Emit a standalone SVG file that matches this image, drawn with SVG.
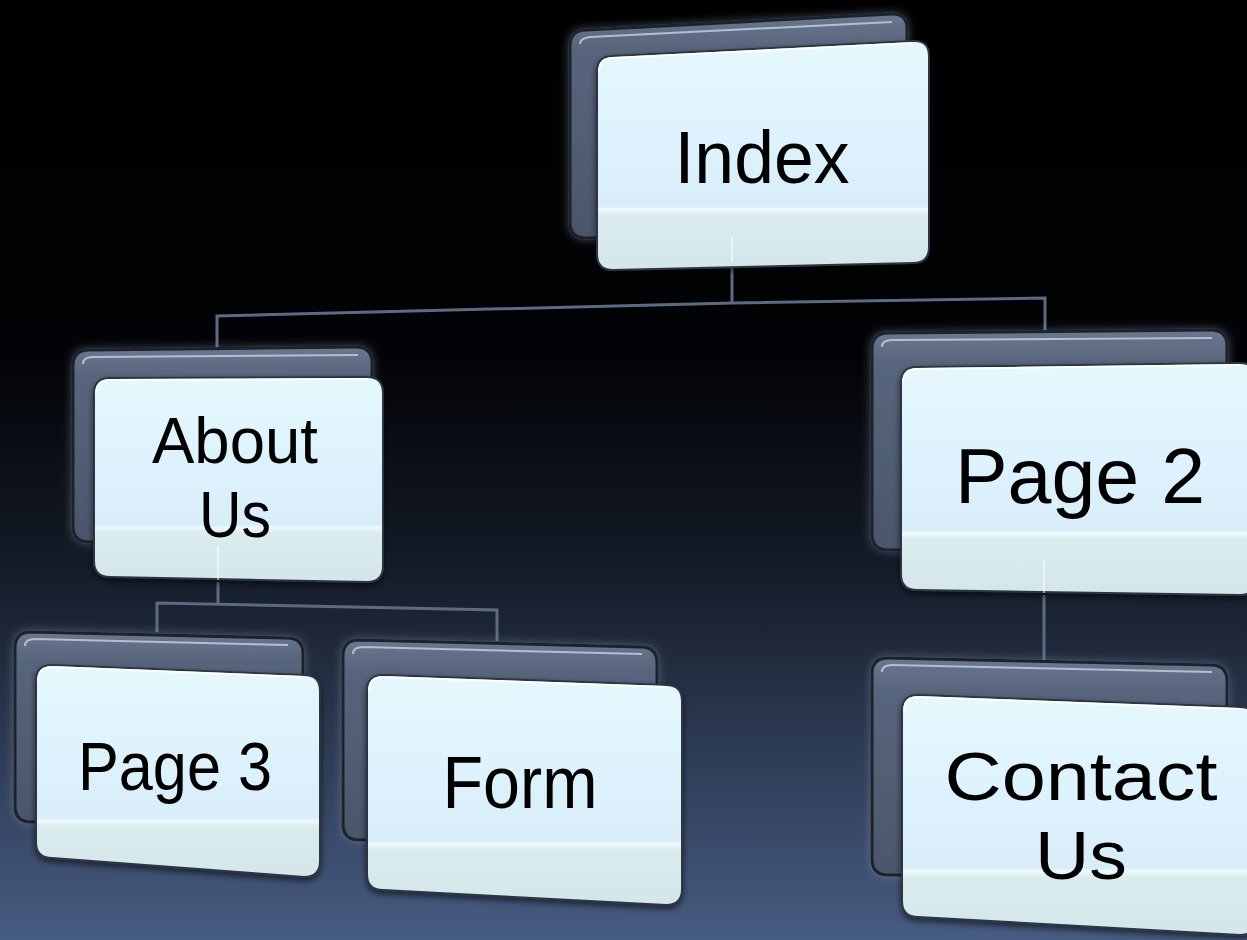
<svg xmlns="http://www.w3.org/2000/svg" width="1247" height="940" viewBox="0 0 1247 940">
<defs>
<linearGradient id="bg" x1="0" y1="0" x2="0" y2="1">
<stop offset="0" stop-color="#000000"/>
<stop offset="0.38" stop-color="#020306"/>
<stop offset="0.6" stop-color="#141b27"/>
<stop offset="1" stop-color="#475c82"/>
</linearGradient>
<linearGradient id="backG" x1="0" y1="0" x2="0" y2="1">
<stop offset="0" stop-color="#6a778e"/>
<stop offset="0.15" stop-color="#58657c"/>
<stop offset="1" stop-color="#4a566b"/>
</linearGradient>
<linearGradient id="frontG" x1="0" y1="0" x2="0" y2="1">
<stop offset="0" stop-color="#e4f8fd"/>
<stop offset="0.5" stop-color="#dcf1fc"/>
<stop offset="0.72" stop-color="#d8edf8"/>
<stop offset="0.735" stop-color="#eef9fc"/>
<stop offset="0.76" stop-color="#dbecef"/>
<stop offset="1" stop-color="#d3e6e9"/>
</linearGradient>
<filter id="glow" x="-10%" y="-10%" width="120%" height="120%">
<feGaussianBlur in="SourceAlpha" stdDeviation="5" result="b"/>
<feFlood flood-color="#8a9ab4" flood-opacity="0.45"/>
<feComposite in2="b" operator="in" result="g"/>
<feMerge><feMergeNode in="g"/><feMergeNode in="SourceGraphic"/></feMerge>
</filter>
<filter id="shadow" x="-10%" y="-10%" width="120%" height="125%">
<feGaussianBlur in="SourceAlpha" stdDeviation="3" result="b"/>
<feOffset dx="0" dy="3" in="b" result="o"/>
<feFlood flood-color="#000" flood-opacity="0.6"/>
<feComposite in2="o" operator="in" result="s"/>
<feMerge><feMergeNode in="s"/><feMergeNode in="SourceGraphic"/></feMerge>
</filter>
</defs>
<style>
.back{fill:url(#backG);stroke:#1c222c;stroke-width:3;filter:url(#glow)}
.backHi{fill:none;stroke:#b3bfcf;stroke-width:2}
.front{fill:url(#frontG);stroke:#2e3642;stroke-width:2;filter:url(#shadow)}
.frontHi{fill:none;stroke:#ffffff;stroke-width:2;opacity:0.9}
.lbl{font-family:"Liberation Sans",Arial,sans-serif;fill:#000;text-anchor:middle}
.conn{fill:none;stroke:#5d6b82;stroke-width:3}
.inner{stroke:#ffffff;stroke-width:1.5;opacity:0.7}
</style>
<rect x="0" y="0" width="1247" height="940" fill="url(#bg)"/>

<g id="connectors">
<polyline class="conn" points="732,262 732,303"/>
<polyline class="conn" points="217,352 217,316 732,303 1045,298 1045,333"/>
<polyline class="conn" points="218,582 218,603"/>
<polyline class="conn" points="157,632 157,603 497,610 497,641"/>
<polyline class="conn" points="1044,595 1044,660"/>
</g>

<g id="node-index">
<path class="back" d="M570,46 Q570,30 586,30 L891,14 Q907,13 907,29 L907,214 Q907,230 891,230 L586,238 Q570,238 570,222 Z"/>
<path class="backHi" d="M580,44 Q580,38 590,37 L892,22"/>
<path class="front" d="M597,72 Q597,56 613,56 L913,41 Q929,40 929,56 L929,247 Q929,263 913,263 L613,270 Q597,270 597,254 Z"/>
<path class="frontHi" d="M599,72 Q599,58 613,58 L913,43"/>
<line class="inner" x1="732" y1="236" x2="732" y2="262"/>
<text class="lbl" x="762" y="183" font-size="74" textLength="175" lengthAdjust="spacingAndGlyphs">Index</text>
</g>

<g id="node-about">
<path class="back" d="M73,366 Q73,350 89,350 L356,347 Q372,347 372,363 L372,524 Q372,540 356,540 L89,542 Q73,542 73,526 Z"/>
<path class="backHi" d="M83,364 Q83,357 93,357 L358,355"/>
<path class="front" d="M94,394 Q94,378 110,378 L367,377 Q383,377 383,393 L383,566 Q383,582 367,582 L110,577 Q94,577 94,561 Z"/>
<path class="frontHi" d="M96,394 Q96,380 110,380 L367,379"/>
<line class="inner" x1="218" y1="546" x2="218" y2="580"/>
<text class="lbl" x="235" y="463" font-size="64" textLength="166" lengthAdjust="spacingAndGlyphs">About</text>
<text class="lbl" x="235" y="537" font-size="64" textLength="72" lengthAdjust="spacingAndGlyphs">Us</text>
</g>

<g id="node-page2">
<path class="back" d="M872,349 Q872,333 888,333 L1211,330 Q1227,330 1227,346 L1227,529 Q1227,545 1211,545 L888,550 Q872,550 872,534 Z"/>
<path class="backHi" d="M882,347 Q882,340 892,340 L1212,338"/>
<path class="front" d="M901,383 Q901,367 917,367 L1240,363 Q1256,363 1256,379 L1256,579 Q1256,595 1240,595 L917,590 Q901,590 901,574 Z"/>
<path class="frontHi" d="M903,383 Q903,369 917,369 L1240,365"/>
<line class="inner" x1="1044" y1="560" x2="1044" y2="593"/>
<text class="lbl" x="1080" y="503" font-size="78" textLength="250" lengthAdjust="spacingAndGlyphs">Page 2</text>
</g>

<g id="node-contact">
<path class="back" d="M872,674 Q872,658 888,658 L1211,665 Q1227,665 1227,681 L1227,864 Q1227,880 1211,880 L888,875 Q872,875 872,859 Z"/>
<path class="backHi" d="M882,672 Q882,665 892,665 L1212,672"/>
<path class="front" d="M902,711 Q902,695 918,695 L1240,707 Q1256,707 1256,723 L1256,919 Q1256,935 1240,935 L918,917 Q902,917 902,901 Z"/>
<path class="frontHi" d="M904,711 Q904,697 918,697 L1240,709"/>
<text class="lbl" x="1081" y="800" font-size="68" textLength="273" lengthAdjust="spacingAndGlyphs">Contact</text>
<text class="lbl" x="1081" y="879" font-size="68" textLength="92" lengthAdjust="spacingAndGlyphs">Us</text>
</g>

<g id="node-page3">
<path class="back" d="M15,648 Q15,632 31,632 L287,638 Q303,638 303,654 L303,799 Q303,815 287,815 L31,822 Q15,822 15,806 Z"/>
<path class="backHi" d="M25,646 Q25,639 35,639 L288,645"/>
<path class="front" d="M36,681 Q36,665 52,665 L304,675 Q320,675 320,691 L320,861 Q320,877 304,877 L52,858 Q36,858 36,842 Z"/>
<path class="frontHi" d="M38,681 Q38,667 52,667 L304,677"/>
<text class="lbl" x="175" y="790" font-size="68" textLength="194" lengthAdjust="spacingAndGlyphs">Page 3</text>
</g>

<g id="node-form">
<path class="back" d="M343,656 Q343,640 359,640 L641,647 Q657,647 657,663 L657,819 Q657,835 641,835 L359,840 Q343,840 343,824 Z"/>
<path class="backHi" d="M353,654 Q353,647 363,647 L642,654"/>
<path class="front" d="M367,691 Q367,675 383,675 L666,685 Q682,685 682,701 L682,889 Q682,905 666,905 L383,890 Q367,890 367,874 Z"/>
<path class="frontHi" d="M369,691 Q369,677 383,677 L666,687"/>
<text class="lbl" x="520" y="808" font-size="74" textLength="155" lengthAdjust="spacingAndGlyphs">Form</text>
</g>
</svg>
